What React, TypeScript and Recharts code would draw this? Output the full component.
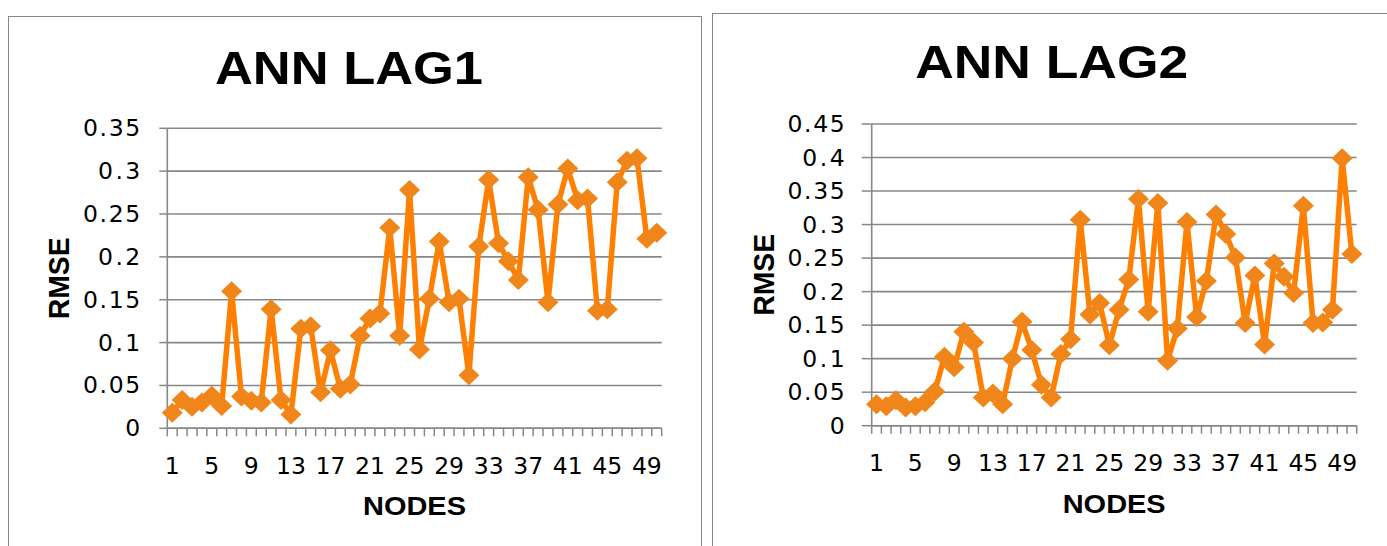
import React from 'react';
import { LineChart, Line, XAxis, YAxis, CartesianGrid, Label } from 'recharts';

const nodes = [
  1, 2, 3, 4, 5, 6, 7, 8, 9, 10, 11, 12, 13, 14, 15, 16, 17, 18, 19, 20, 21, 22, 23, 24, 25,
  26, 27, 28, 29, 30, 31, 32, 33, 34, 35, 36, 37, 38, 39, 40, 41, 42, 43, 44, 45, 46, 47, 48, 49, 50,
];

const lag1Rmse = [
  0.018, 0.033, 0.025, 0.03, 0.038, 0.026, 0.16, 0.037, 0.032, 0.03,
  0.139, 0.033, 0.016, 0.116, 0.119, 0.042, 0.091, 0.046, 0.051, 0.108,
  0.128, 0.134, 0.234, 0.108, 0.278, 0.092, 0.151, 0.218, 0.147, 0.151,
  0.062, 0.212, 0.29, 0.216, 0.195, 0.173, 0.293, 0.255, 0.147, 0.261,
  0.303, 0.266, 0.268, 0.137, 0.139, 0.287, 0.312, 0.315, 0.221, 0.228,
];

const lag2Rmse = [
  0.032, 0.029, 0.038, 0.027, 0.029, 0.035, 0.051, 0.103, 0.087, 0.14,
  0.124, 0.042, 0.048, 0.032, 0.1, 0.155, 0.113, 0.061, 0.042, 0.107,
  0.129, 0.307, 0.166, 0.183, 0.12, 0.173, 0.218, 0.338, 0.17, 0.332,
  0.097, 0.145, 0.304, 0.162, 0.216, 0.315, 0.286, 0.251, 0.153, 0.224,
  0.121, 0.242, 0.222, 0.198, 0.328, 0.153, 0.154, 0.173, 0.399, 0.256,
];

const lag1YTicks = [0, 0.05, 0.1, 0.15, 0.2, 0.25, 0.3, 0.35];
const lag2YTicks = [0, 0.05, 0.1, 0.15, 0.2, 0.25, 0.3, 0.35, 0.4, 0.45];
const nodeLabelTicks = [1, 5, 9, 13, 17, 21, 25, 29, 33, 37, 41, 45, 49];

const GRAY = '#878787';
const LINE_COLOR = '#FF8000';
const MARK_COLOR = '#F0851A';
const TICK_FONT = '"DejaVu Sans", Verdana, sans-serif';
const TITLE_FONT = '"Liberation Sans", Arial, sans-serif';

const boundaryTicks = [0.5].concat(nodes.map((n) => n + 0.5));
const xTicks = boundaryTicks.concat(nodeLabelTicks).sort((a, b) => a - b);

function rows(values: number[]) {
  return nodes.map((n, i) => ({ node: n, rmse: values[i] }));
}

function renderDiamond(props: any) {
  const { cx, cy, index } = props;
  if (cx == null || cy == null) return <g key={`dm-${index}`} />;
  const w = 10.5;
  const h = 10;
  return (
    <polygon
      key={`dm-${index}`}
      points={`${cx},${cy - h} ${cx + w},${cy} ${cx},${cy + h} ${cx - w},${cy}`}
      fill={MARK_COLOR}
    />
  );
}

type PanelProps = {
  left: number;
  width: number;
  values: number[];
  yTicks: number[];
  yMax: number;
  plotLeft: number;
  plotRight: number;
  plotTop: number;
  plotBottom: number;
  yTickLen: number;
  xLabelOffset: number;
  nodesOffset: number;
  title: string;
  titleX: number;
  titleY: number;
  titleLen: number;
  titleSize: number;
};

function Panel(p: PanelProps) {
  const height = 546;
  const xAxisHeight = 100;
  const data = rows(p.values);
  const margin = {
    top: p.plotTop,
    left: 0,
    right: p.width - p.plotRight,
    bottom: height - p.plotBottom - xAxisHeight,
  };

  const xTick = (props: any) => {
    const { x, y, payload } = props;
    const v = payload.value;
    if (Number.isInteger(v)) {
      return (
        <text x={x} y={y + p.xLabelOffset} textAnchor="middle" fontFamily={TICK_FONT} fontSize={23.5} fill="#000">
          {v}
        </text>
      );
    }
    return <line x1={x} x2={x} y1={y} y2={y + 8} stroke={GRAY} strokeWidth={1.5} />;
  };

  const yTick = (props: any) => {
    const { x, y, payload } = props;
    const s = String(payload.value);
    const digits = s.replace('.', '').length;
    const natural = digits * 0.636 * 23.5 + (s.includes('.') ? 0.318 * 23.5 : 0);
    const len = s.includes('.') ? natural + 5 : natural;
    return (
      <g>
        <line x1={x - p.yTickLen} x2={x} y1={y} y2={y} stroke={GRAY} strokeWidth={1.5} />
        <text
          x={x - 27}
          y={y + 8}
          textAnchor="end"
          fontFamily={TICK_FONT}
          fontSize={23.5}
          textLength={len}
          lengthAdjust="spacing"
          fill="#000"
        >
          {s}
        </text>
      </g>
    );
  };

  return (
    <div style={{ position: 'absolute', left: p.left, top: 0, width: p.width, height }}>
      <LineChart width={p.width} height={height} data={data} margin={margin}>
        <CartesianGrid vertical={false} stroke={GRAY} strokeWidth={1.6} />
        <XAxis
          dataKey="node"
          type="number"
          domain={[0.5, 50.5]}
          ticks={xTicks}
          interval={0}
          tick={xTick}
          tickLine={false}
          tickSize={0}
          tickMargin={0}
          height={xAxisHeight}
          axisLine={{ stroke: GRAY, strokeWidth: 1.6 }}
        >
          <Label
            content={(lp: any) => {
              const vb = lp.viewBox || {};
              return (
                <text
                  x={vb.x + vb.width / 2}
                  y={vb.y + p.nodesOffset}
                  textAnchor="middle"
                  fontFamily={TITLE_FONT}
                  fontWeight="bold"
                  fontSize={25.5}
                  textLength={103}
                  lengthAdjust="spacingAndGlyphs"
                  fill="#000"
                >
                  NODES
                </text>
              );
            }}
          />
        </XAxis>
        <YAxis
          type="number"
          domain={[0, p.yMax]}
          ticks={p.yTicks}
          interval={0}
          tick={yTick}
          tickLine={false}
          tickSize={0}
          tickMargin={0}
          width={p.plotLeft}
          axisLine={{ stroke: GRAY, strokeWidth: 1.6 }}
        >
          <Label
            content={(lp: any) => {
              const vb = lp.viewBox || {};
              const bx = vb.x + vb.width - 98;
              const cy = vb.y + vb.height / 2;
              return (
                <text
                  x={bx}
                  y={cy}
                  transform={`rotate(-90 ${bx} ${cy})`}
                  textAnchor="middle"
                  fontFamily={TITLE_FONT}
                  fontWeight="bold"
                  fontSize={30}
                  textLength={82}
                  lengthAdjust="spacingAndGlyphs"
                  fill="#000"
                >
                  RMSE
                </text>
              );
            }}
          />
        </YAxis>
        <Line
          type="linear"
          dataKey="rmse"
          stroke={LINE_COLOR}
          strokeWidth={5.5}
          strokeLinejoin="round"
          dot={renderDiamond}
          activeDot={false}
          isAnimationActive={false}
        />
      </LineChart>
      <svg
        width={p.width}
        height={120}
        style={{ position: 'absolute', left: 0, top: 0, pointerEvents: 'none' }}
      >
        <text
          x={p.titleX - p.left}
          y={p.titleY}
          textAnchor="middle"
          fontFamily={TITLE_FONT}
          fontWeight="bold"
          fontSize={p.titleSize}
          textLength={p.titleLen}
          lengthAdjust="spacingAndGlyphs"
          fill="#000"
        >
          {p.title}
        </text>
      </svg>
    </div>
  );
}

export default function App() {
  return (
    <div
      style={{
        position: 'absolute',
        left: 0,
        top: 0,
        width: 1387,
        height: 546,
        overflow: 'hidden',
        background: '#fff',
      }}
    >
      <div
        style={{
          position: 'absolute',
          left: 8,
          top: 16,
          width: 694,
          height: 560,
          border: `1px solid ${GRAY}`,
          boxSizing: 'border-box',
        }}
      />
      <div
        style={{
          position: 'absolute',
          left: 712,
          top: 13,
          width: 700,
          height: 560,
          border: `1px solid ${GRAY}`,
          boxSizing: 'border-box',
        }}
      />
      <Panel
        left={0}
        width={700}
        values={lag1Rmse}
        yTicks={lag1YTicks}
        yMax={0.35}
        plotLeft={167.3}
        plotRight={661.7}
        plotTop={128.3}
        plotBottom={428.3}
        yTickLen={8}
        xLabelOffset={46}
        nodesOffset={86.7}
        title="ANN LAG1"
        titleX={349}
        titleY={84.3}
        titleLen={268}
        titleSize={45.6}
      />
      <Panel
        left={700}
        width={687}
        values={lag2Rmse}
        yTicks={lag2YTicks}
        yMax={0.45}
        plotLeft={171.7}
        plotRight={656.7}
        plotTop={124}
        plotBottom={425.7}
        yTickLen={10}
        xLabelOffset={45}
        nodesOffset={87.3}
        title="ANN LAG2"
        titleX={1051.7}
        titleY={78.3}
        titleLen={273}
        titleSize={46}
      />
    </div>
  );
}
